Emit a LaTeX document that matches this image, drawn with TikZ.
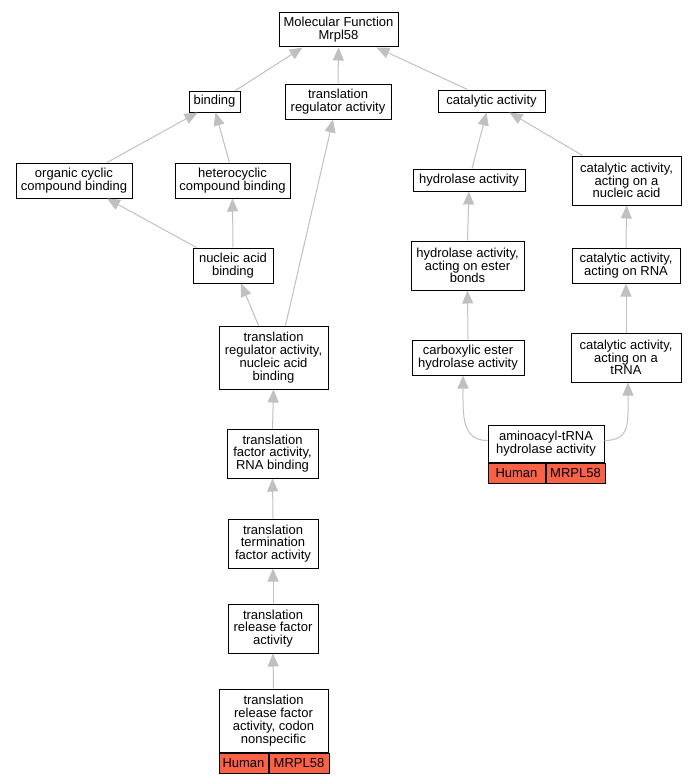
\documentclass[tikz,border=0pt]{standalone}
\usepackage{fontspec}
\setmainfont{Liberation Sans}
\usetikzlibrary{positioning}
\usetikzlibrary{arrows.meta}
\definecolor{edgegray}{RGB}{192,192,192}
\definecolor{hitred}{RGB}{250,98,72}
\tikzstyle{goterm} = [rectangle,
draw=black, line width=1pt, fill=white,
inner sep=1pt, align=center,
font=\fontsize{13}{12.8}\selectfont]
\tikzstyle{hit} = [goterm, fill=hitred, minimum height=20pt]
\tikzstyle{arrow} = [draw=edgegray, line width=1pt,
-{Triangle[length=13pt,width=11pt]}]

\begin{document}
\begin{tikzpicture}[x=1pt,y=-1pt]
\useasboundingbox (0,0) rectangle (695,784);

% top level
\node[goterm, minimum width=119pt, minimum height=34pt] (mf) at (338.5,30) {Molecular Function\\Mrpl58};

% second row
\node[goterm, minimum width=51pt, minimum height=21pt] (bind) at (214.5,101.5) {binding};
\node[goterm, minimum width=106pt, minimum height=35pt] (treg) at (338,101.5) {translation\\regulator activity};
\node[goterm, minimum width=107pt, minimum height=22pt] (cat) at (491.5,101) {catalytic activity};

% third row
\node[goterm, minimum width=116pt, minimum height=35pt] (org) at (74,180.5) {organic cyclic\\compound binding};
\node[goterm, minimum width=115pt, minimum height=35pt] (het) at (232.5,180.5) {heterocyclic\\compound binding};
\node[goterm, minimum width=112pt, minimum height=22pt] (hyd) at (469,180) {hydrolase activity};
\node[goterm, minimum width=109pt, minimum height=49pt] (cnuc) at (626.5,180.5) {catalytic activity,\\acting on a\\nucleic acid};

% fourth row
\node[goterm, minimum width=80pt, minimum height=35pt] (nab) at (233,265.5) {nucleic acid\\binding};
\node[goterm, minimum width=113pt, minimum height=49pt] (hest) at (467.5,265.5) {hydrolase activity,\\acting on ester\\bonds};
\node[goterm, minimum width=108pt, minimum height=35pt] (crna) at (626,265.5) {catalytic activity,\\acting on RNA};

% fifth row
\node[goterm, minimum width=109pt, minimum height=63pt] (tranb) at (273.5,357.5) {translation\\regulator activity,\\nucleic acid\\binding};
\node[goterm, minimum width=112pt, minimum height=35pt] (carb) at (468,357.5) {carboxylic ester\\hydrolase activity};
\node[goterm, minimum width=110pt, minimum height=49pt] (ctrna) at (626,357.5) {catalytic activity,\\acting on a\\tRNA};

% annotated leaf on the right
\node[goterm, minimum width=116pt, minimum height=37pt] (amino) at (546,443.5) {aminoacyl-tRNA\\hydrolase activity};
\node[hit, minimum width=57pt, anchor=north west] (aminohum) at (amino.south west) {Human};
\node[hit, minimum width=59pt, right=0pt of aminohum] (aminogene) {MRPL58};

% chain on the left
\node[goterm, minimum width=91pt, minimum height=49pt] (tfrna) at (272.5,453.5) {translation\\factor activity,\\RNA binding};
\node[goterm, minimum width=90pt, minimum height=49pt] (term) at (273,543.5) {translation\\termination\\factor activity};
\node[goterm, minimum width=90pt, minimum height=49pt] (rel) at (273,628.5) {translation\\release factor\\activity};

% annotated leaf on the left
\node[goterm, minimum width=109pt, minimum height=63pt] (reln) at (273.5,720.5) {translation\\release factor\\activity, codon\\nonspecific};
\node[hit, minimum width=49pt, anchor=north west] (relnhum) at (reln.south west) {Human};
\node[hit, minimum width=60pt, right=0pt of relnhum] (relngene) {MRPL58};

% edges, child to parent
\draw[arrow] ([xshift=-5pt]bind.north east) -- ([xshift=-36pt]mf.south);
\draw[arrow] (treg.north) -- (mf.south);
\draw[arrow] ([xshift=-24pt]cat.north) -- ([xshift=38pt]mf.south);

\draw[arrow] ([xshift=33pt]org.north) -- ([xshift=-17pt]bind.south);
\draw[arrow] ([xshift=-3pt]het.north) -- ([xshift=1pt]bind.south);
\draw[arrow] ([xshift=4pt]nab.north west) -- ([xshift=33pt]org.south);
\draw[arrow] (nab.north) -- (het.south);
\draw[arrow] ([xshift=-15pt]tranb.north) -- ([xshift=8pt]nab.south);
\draw[arrow] ([xshift=12pt]tranb.north) -- ([xshift=-5pt]treg.south);

\draw[arrow] ([xshift=3pt]hyd.north) -- ([xshift=-5pt]cat.south);
\draw[arrow] ([xshift=11pt]cnuc.north west) -- ([xshift=18pt]cat.south);
\draw[arrow] (hest.north) -- (hyd.south);
\draw[arrow] (crna.north) -- (cnuc.south);
\draw[arrow] (carb.north) -- (hest.south);
\draw[arrow] (ctrna.north) -- (crna.south);
\draw[arrow] ([yshift=3pt]amino.west) .. controls +(-26,0) and +(0,40) .. ([xshift=-5pt]carb.south);
\draw[arrow] ([yshift=3pt]amino.east) .. controls +(26,0) and +(0,40) .. ([xshift=2pt]ctrna.south);

\draw[arrow] (tfrna.north) -- (tranb.south);
\draw[arrow] (term.north) -- (tfrna.south);
\draw[arrow] (rel.north) -- (term.south);
\draw[arrow] (reln.north) -- (rel.south);
\end{tikzpicture}
\end{document}
